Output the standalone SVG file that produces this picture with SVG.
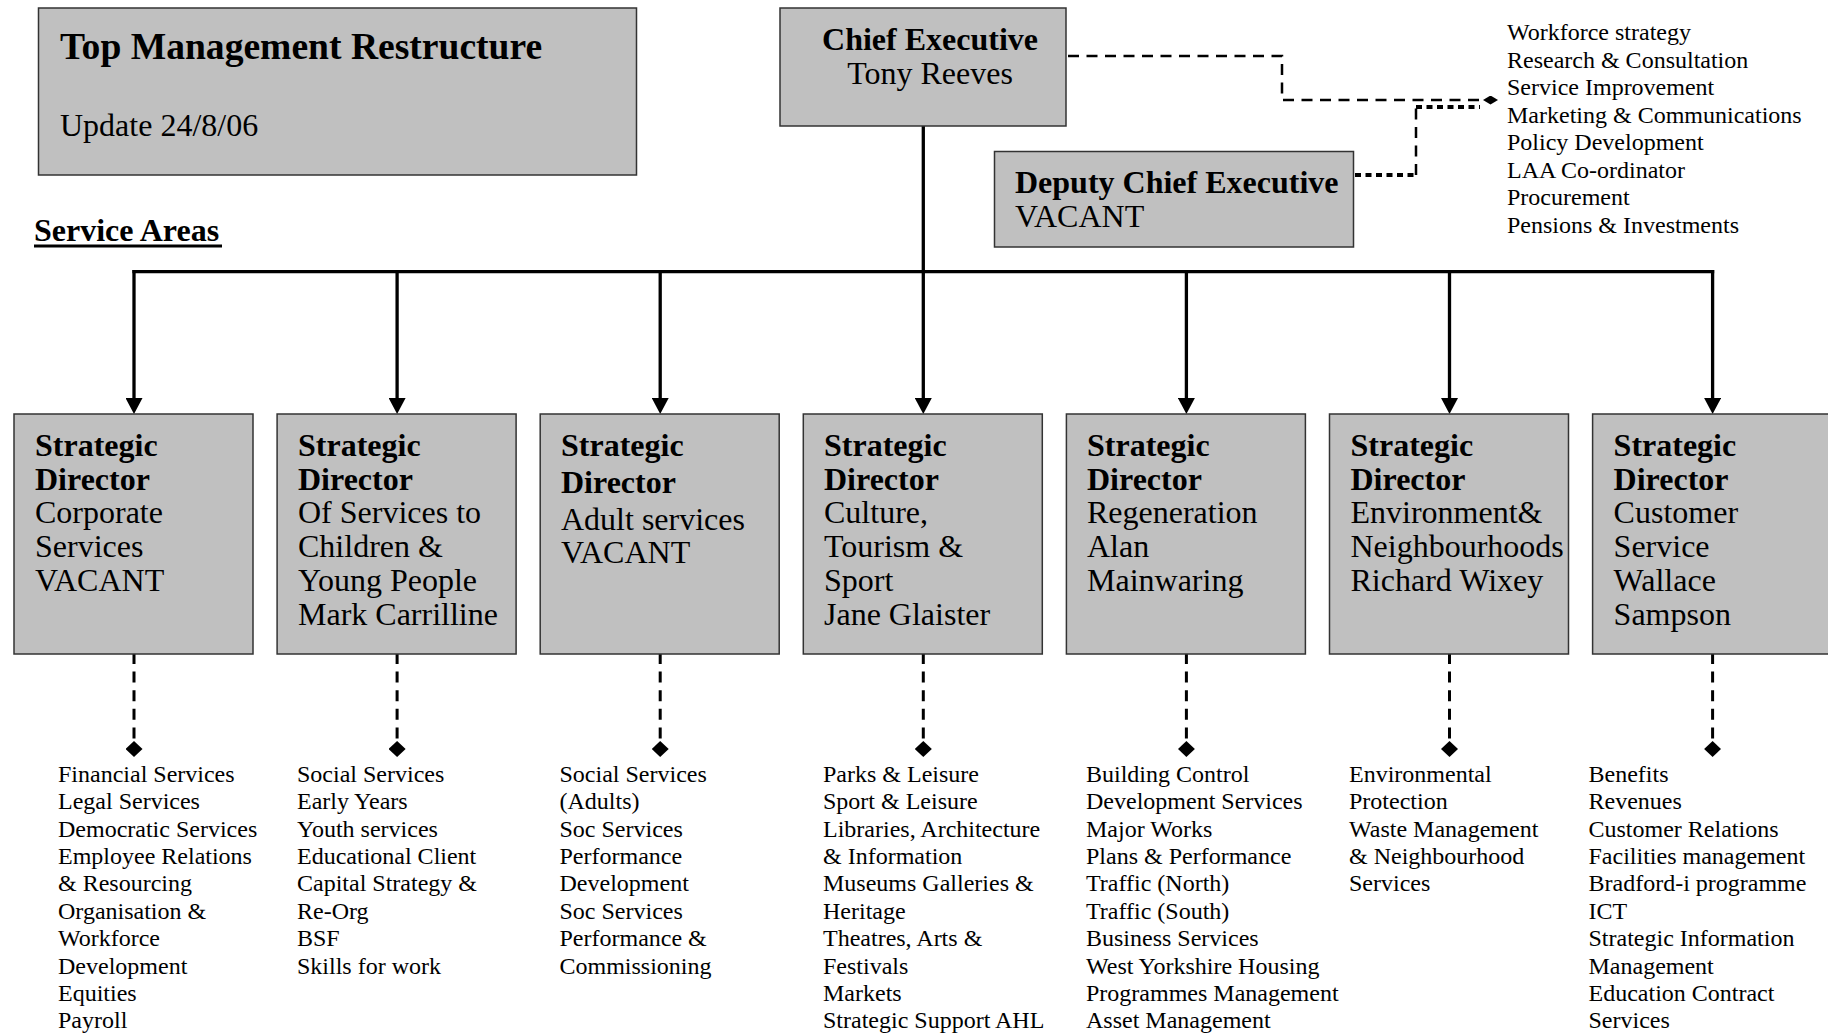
<svg xmlns="http://www.w3.org/2000/svg" width="1828" height="1034" viewBox="0 0 1828 1034">
  <defs>
    <style>
      .box { fill: #c0c0c0; stroke: #333; stroke-width: 1.5; }
      .t { font-family: "Liberation Serif", "Times New Roman", serif; fill: #000; }
      .h1 { font-size: 37.6px; font-weight: bold; }
      .b { font-size: 32px; font-weight: bold; }
      .r { font-size: 32px; }
      .s { font-size: 24px; }
      .solid { stroke: #000; stroke-width: 3.3; fill: none; }
      .dash { stroke: #000; stroke-width: 3; stroke-dasharray: 11 7.6; fill: none; }
      .dashthin { stroke: #000; stroke-width: 2.5; stroke-dasharray: 11 7.5; fill: none; }
      .dot { stroke: #000; stroke-width: 4; stroke-dasharray: 6 4.5; fill: none; }
    </style>
    <marker id="arrow" markerUnits="userSpaceOnUse" viewBox="0 0 16 17" refX="7" refY="8.5" markerWidth="16" markerHeight="17" orient="auto">
      <path d="M0,0 L16,8.5 L0,17 z" fill="#000"/>
    </marker>
    <marker id="diamond" markerUnits="userSpaceOnUse" viewBox="0 0 16 17" refX="0" refY="8.5" markerWidth="16" markerHeight="17" orient="auto">
      <path d="M0,8.5 L8,0 L16,8.5 L8,17 z" fill="#000"/>
    </marker>
    <marker id="diamondFlat" markerUnits="userSpaceOnUse" viewBox="0 0 15 9" refX="0" refY="4.5" markerWidth="15" markerHeight="9" orient="auto">
      <path d="M0,4.5 L7.5,0 L15,4.5 L7.5,9 z" fill="#000"/>
    </marker>
  </defs>

  <rect width="1828" height="1034" fill="#fff"/>

  <!-- heading -->
  <g id="title">
    <rect class="box" x="38.5" y="8" width="598" height="167"/>
    <text class="t h1" x="60" y="59">Top Management Restructure</text>
    <text class="t r" x="60" y="136">Update 24/8/06</text>
  </g>

  <g id="service-areas">
    <text class="t b" x="34" y="241">Service Areas</text>
    <line x1="34" y1="246" x2="222" y2="246" stroke="#000" stroke-width="3"/>
  </g>

  <!-- connectors -->
  <g id="connectors">
    <!-- chief executive down to the bus -->
    <line class="solid" x1="923.3" y1="126" x2="923.3" y2="272"/>
    <!-- horizontal bus -->
    <line class="solid" x1="132.4" y1="271.7" x2="1714.2" y2="271.7"/>
    <!-- drops to each strategic director -->
    <line class="solid" x1="134" y1="270" x2="134" y2="405" marker-end="url(#arrow)"/>
    <line class="solid" x1="397.1" y1="270" x2="397.1" y2="405" marker-end="url(#arrow)"/>
    <line class="solid" x1="660.2" y1="270" x2="660.2" y2="405" marker-end="url(#arrow)"/>
    <line class="solid" x1="923.3" y1="270" x2="923.3" y2="405" marker-end="url(#arrow)"/>
    <line class="solid" x1="1186.4" y1="270" x2="1186.4" y2="405" marker-end="url(#arrow)"/>
    <line class="solid" x1="1449.5" y1="270" x2="1449.5" y2="405" marker-end="url(#arrow)"/>
    <line class="solid" x1="1712.6" y1="270" x2="1712.6" y2="405" marker-end="url(#arrow)"/>

    <!-- directors to their service lists -->
    <line class="dash" x1="134" y1="653" x2="134" y2="741" marker-end="url(#diamond)"/>
    <line class="dash" x1="397.1" y1="653" x2="397.1" y2="741" marker-end="url(#diamond)"/>
    <line class="dash" x1="660.2" y1="653" x2="660.2" y2="741" marker-end="url(#diamond)"/>
    <line class="dash" x1="923.3" y1="653" x2="923.3" y2="741" marker-end="url(#diamond)"/>
    <line class="dash" x1="1186.4" y1="653" x2="1186.4" y2="741" marker-end="url(#diamond)"/>
    <line class="dash" x1="1449.5" y1="653" x2="1449.5" y2="741" marker-end="url(#diamond)"/>
    <line class="dash" x1="1712.6" y1="653" x2="1712.6" y2="741" marker-end="url(#diamond)"/>

    <!-- chief executive to corporate functions -->
    <path class="dashthin" d="M1068,56 H1282 V100 H1483" marker-end="url(#diamondFlat)"/>
    <!-- deputy chief executive to corporate functions -->
    <path class="dot" d="M1355,175 H1416"/>
    <path class="dashthin" d="M1416,175 V107"/>
    <path class="dot" d="M1416,107 H1480"/>
  </g>

  <!-- chief executive -->
  <g id="chief-executive">
    <rect class="box" x="780" y="8" width="286" height="118"/>
    <text class="t b" x="930" y="50" text-anchor="middle">Chief Executive</text>
    <text class="t r" x="930" y="84" text-anchor="middle">Tony Reeves</text>
  </g>

  <!-- deputy chief executive -->
  <g id="deputy-chief-executive">
    <rect class="box" x="994.5" y="151.5" width="359" height="95.5"/>
    <text class="t b" x="1015" y="193">Deputy Chief Executive</text>
    <text class="t r" x="1015" y="227">VACANT</text>
  </g>

  <!-- corporate functions -->
  <g id="corporate-functions" class="t s">
    <text x="1507" y="40">Workforce strategy</text>
    <text x="1507" y="67.5">Research &amp; Consultation</text>
    <text x="1507" y="95">Service Improvement</text>
    <text x="1507" y="122.5">Marketing &amp; Communications</text>
    <text x="1507" y="150">Policy Development</text>
    <text x="1507" y="177.5">LAA Co-ordinator</text>
    <text x="1507" y="205">Procurement</text>
    <text x="1507" y="232.5">Pensions &amp; Investments</text>
  </g>

  <!-- strategic directors -->
  <g id="director-corporate">
    <rect class="box" x="14" y="414" width="239" height="240"/>
    <text class="t b" x="35" y="456">Strategic</text>
    <text class="t b" x="35" y="489.5">Director</text>
    <text class="t r" x="35" y="523">Corporate</text>
    <text class="t r" x="35" y="557">Services</text>
    <text class="t r" x="35" y="591">VACANT</text>
  </g>

  <g id="director-children">
    <rect class="box" x="277.1" y="414" width="239" height="240"/>
    <text class="t b" x="298" y="456">Strategic</text>
    <text class="t b" x="298" y="489.5">Director</text>
    <text class="t r" x="298" y="523">Of Services to</text>
    <text class="t r" x="298" y="557">Children &amp;</text>
    <text class="t r" x="298" y="591">Young People</text>
    <text class="t r" x="298" y="624.5">Mark Carrilline</text>
  </g>

  <g id="director-adult">
    <rect class="box" x="540.2" y="414" width="239" height="240"/>
    <text class="t b" x="561" y="456">Strategic</text>
    <text class="t b" x="561" y="492.5">Director</text>
    <text class="t r" x="561" y="529.5">Adult services</text>
    <text class="t r" x="561" y="563">VACANT</text>
  </g>

  <g id="director-culture">
    <rect class="box" x="803.3" y="414" width="239" height="240"/>
    <text class="t b" x="824" y="456">Strategic</text>
    <text class="t b" x="824" y="489.5">Director</text>
    <text class="t r" x="824" y="523">Culture,</text>
    <text class="t r" x="824" y="557">Tourism &amp;</text>
    <text class="t r" x="824" y="591">Sport</text>
    <text class="t r" x="824" y="624.5">Jane Glaister</text>
  </g>

  <g id="director-regeneration">
    <rect class="box" x="1066.4" y="414" width="239" height="240"/>
    <text class="t b" x="1087" y="456">Strategic</text>
    <text class="t b" x="1087" y="489.5">Director</text>
    <text class="t r" x="1087" y="523">Regeneration</text>
    <text class="t r" x="1087" y="557">Alan</text>
    <text class="t r" x="1087" y="591">Mainwaring</text>
  </g>

  <g id="director-environment">
    <rect class="box" x="1329.5" y="414" width="239" height="240"/>
    <text class="t b" x="1350.5" y="456">Strategic</text>
    <text class="t b" x="1350.5" y="489.5">Director</text>
    <text class="t r" x="1350.5" y="523">Environment&amp;</text>
    <text class="t r" x="1350.5" y="557">Neighbourhoods</text>
    <text class="t r" x="1350.5" y="591">Richard Wixey</text>
  </g>

  <g id="director-customer">
    <rect class="box" x="1592.6" y="414" width="239" height="240"/>
    <text class="t b" x="1613.6" y="456">Strategic</text>
    <text class="t b" x="1613.6" y="489.5">Director</text>
    <text class="t r" x="1613.6" y="523">Customer</text>
    <text class="t r" x="1613.6" y="557">Service</text>
    <text class="t r" x="1613.6" y="591">Wallace</text>
    <text class="t r" x="1613.6" y="624.5">Sampson</text>
  </g>

  <!-- service lists -->
  <g id="services-corporate" class="t s">
    <text x="58" y="781.7">Financial Services</text>
    <text x="58" y="809.1">Legal Services</text>
    <text x="58" y="836.5">Democratic Services</text>
    <text x="58" y="863.9">Employee Relations</text>
    <text x="58" y="891.3">&amp; Resourcing</text>
    <text x="58" y="918.7">Organisation &amp;</text>
    <text x="58" y="946.1">Workforce</text>
    <text x="58" y="973.5">Development</text>
    <text x="58" y="1000.9">Equities</text>
    <text x="58" y="1028.3">Payroll</text>
  </g>

  <g id="services-children" class="t s">
    <text x="297" y="781.7">Social Services</text>
    <text x="297" y="809.1">Early Years</text>
    <text x="297" y="836.5">Youth services</text>
    <text x="297" y="863.9">Educational Client</text>
    <text x="297" y="891.3">Capital Strategy &amp;</text>
    <text x="297" y="918.7">Re-Org</text>
    <text x="297" y="946.1">BSF</text>
    <text x="297" y="973.5">Skills for work</text>
  </g>

  <g id="services-adult" class="t s">
    <text x="559.5" y="781.7">Social Services</text>
    <text x="559.5" y="809.1">(Adults)</text>
    <text x="559.5" y="836.5">Soc Services</text>
    <text x="559.5" y="863.9">Performance</text>
    <text x="559.5" y="891.3">Development</text>
    <text x="559.5" y="918.7">Soc Services</text>
    <text x="559.5" y="946.1">Performance &amp;</text>
    <text x="559.5" y="973.5">Commissioning</text>
  </g>

  <g id="services-culture" class="t s">
    <text x="823" y="781.7">Parks &amp; Leisure</text>
    <text x="823" y="809.1">Sport &amp; Leisure</text>
    <text x="823" y="836.5">Libraries, Architecture</text>
    <text x="823" y="863.9">&amp; Information</text>
    <text x="823" y="891.3">Museums Galleries &amp;</text>
    <text x="823" y="918.7">Heritage</text>
    <text x="823" y="946.1">Theatres, Arts &amp;</text>
    <text x="823" y="973.5">Festivals</text>
    <text x="823" y="1000.9">Markets</text>
    <text x="823" y="1028.3">Strategic Support AHL</text>
  </g>

  <g id="services-regeneration" class="t s">
    <text x="1086" y="781.7">Building Control</text>
    <text x="1086" y="809.1">Development Services</text>
    <text x="1086" y="836.5">Major Works</text>
    <text x="1086" y="863.9">Plans &amp; Performance</text>
    <text x="1086" y="891.3">Traffic (North)</text>
    <text x="1086" y="918.7">Traffic (South)</text>
    <text x="1086" y="946.1">Business Services</text>
    <text x="1086" y="973.5">West Yorkshire Housing</text>
    <text x="1086" y="1000.9">Programmes Management</text>
    <text x="1086" y="1028.3">Asset Management</text>
  </g>

  <g id="services-environment" class="t s">
    <text x="1349" y="781.7">Environmental</text>
    <text x="1349" y="809.1">Protection</text>
    <text x="1349" y="836.5">Waste Management</text>
    <text x="1349" y="863.9">&amp; Neighbourhood</text>
    <text x="1349" y="891.3">Services</text>
  </g>

  <g id="services-customer" class="t s">
    <text x="1588.5" y="781.7">Benefits</text>
    <text x="1588.5" y="809.1">Revenues</text>
    <text x="1588.5" y="836.5">Customer Relations</text>
    <text x="1588.5" y="863.9">Facilities management</text>
    <text x="1588.5" y="891.3">Bradford-i programme</text>
    <text x="1588.5" y="918.7">ICT</text>
    <text x="1588.5" y="946.1">Strategic Information</text>
    <text x="1588.5" y="973.5">Management</text>
    <text x="1588.5" y="1000.9">Education Contract</text>
    <text x="1588.5" y="1028.3">Services</text>
  </g>
</svg>
